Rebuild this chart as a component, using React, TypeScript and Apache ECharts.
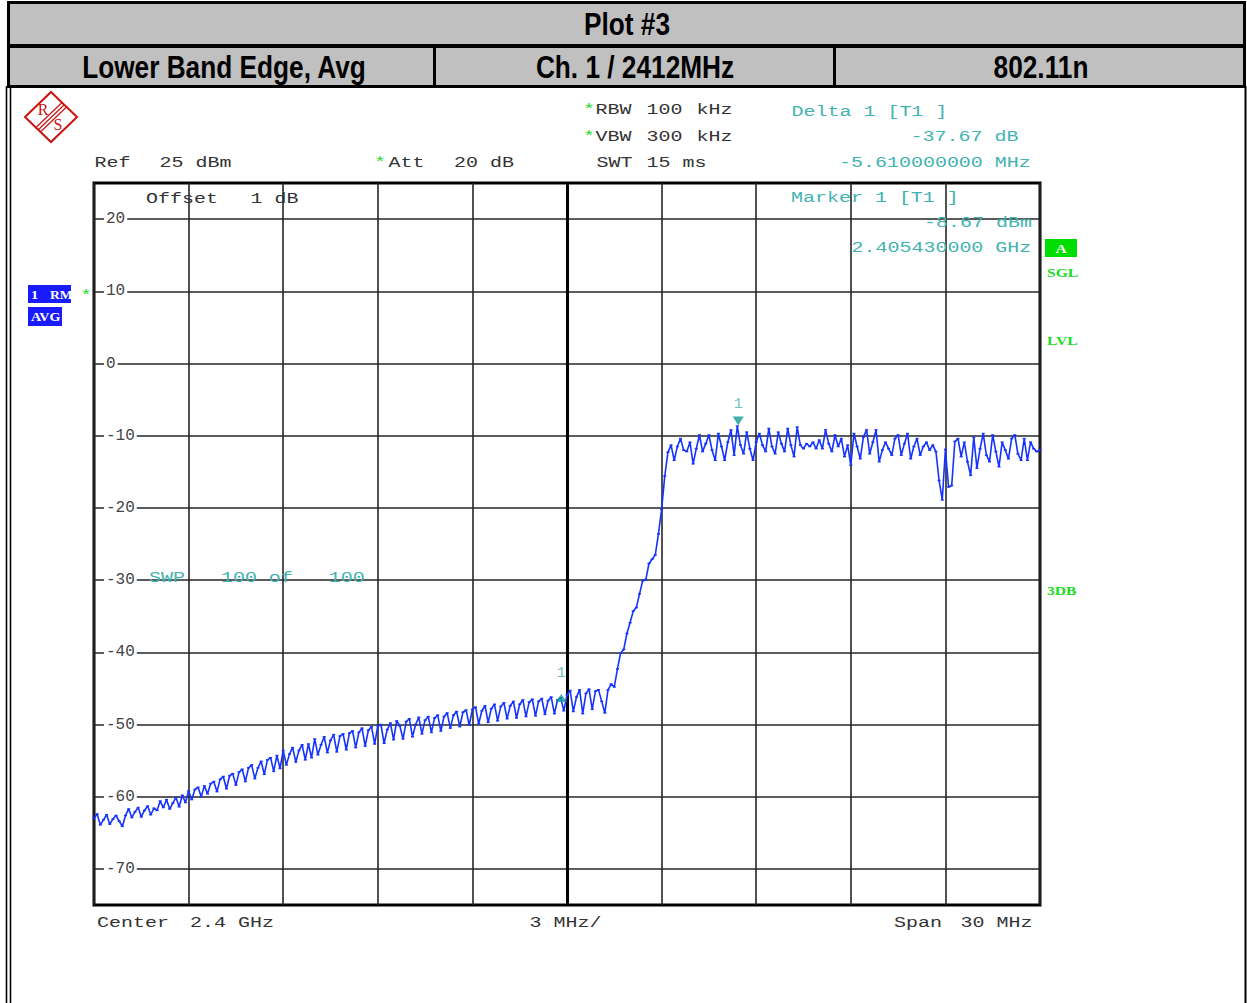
import React, { useEffect, useRef } from "react";
import * as echarts from "echarts";

// ---- Sweep parameters (spectrum analyser) ----
const START_MHZ = 2385;
const STOP_MHZ = 2415;
const CENTER_MHZ = 2400;
const DIV_MHZ = 3;
const SWEEP_POINTS = 301;

// ---- Trace levels (dBm), one per sweep point ----
const LEVELS_DBM = [
  -63.0, -62.4, -63.9, -63.2, -62.5, -63.8, -63.1, -62.6, -63.4, -64.1,
  -62.6, -61.7, -62.9, -62.1, -61.5, -62.8, -61.9, -61.3, -62.5, -61.6,
  -61.9, -60.6, -61.5, -60.4, -61.7, -60.9, -60.1, -61.4, -59.8, -60.8,
  -59.2, -60.4, -59.0, -58.7, -60.0, -58.5, -59.6, -58.2, -57.9, -59.3,
  -57.6, -57.2, -58.9, -57.1, -56.8, -58.4, -56.6, -56.2, -57.9, -56.0,
  -55.6, -57.5, -56.0, -55.1, -56.9, -54.9, -54.6, -56.5, -54.3, -56.1,
  -53.6, -55.6, -54.1, -53.2, -55.2, -53.6, -52.8, -54.9, -52.7, -54.6,
  -52.0, -54.2, -52.8, -51.7, -53.9, -52.2, -51.4, -53.8, -51.6, -51.3,
  -53.5, -51.2, -50.9, -53.2, -51.1, -50.5, -53.0, -50.8, -50.3, -52.7,
  -50.2, -50.0, -52.6, -50.7, -49.8, -52.1, -49.5, -50.2, -52.0, -49.6,
  -49.2, -51.7, -50.0, -49.0, -51.3, -49.4, -48.9, -51.1, -49.1, -48.7,
  -50.9, -48.9, -48.4, -50.5, -48.7, -48.2, -50.3, -48.3, -48.0, -50.1,
  -47.9, -47.6, -49.9, -48.1, -47.4, -49.7, -47.8, -47.2, -49.5, -47.5,
  -47.0, -49.2, -47.4, -46.8, -49.1, -47.2, -46.6, -48.9, -46.9, -46.5,
  -48.8, -46.8, -46.4, -48.6, -46.7, -46.2, -48.5, -46.6, -46.3, -48.1,
  -45.9, -45.3, -48.2, -46.2, -45.2, -48.5, -45.7, -45.1, -47.9, -45.4,
  -45.2, -46.8, -48.4, -45.2, -44.4, -44.8, -42.3, -40.1, -39.6, -37.4,
  -35.9, -34.3, -33.8, -31.9, -30.1, -29.9, -27.7, -27.1, -26.5, -23.6,
  -20.2, -15.6, -12.3, -11.3, -13.4, -11.5, -10.4, -12.0, -12.2, -10.9,
  -13.9, -11.8, -9.9, -12.2, -11.1, -9.9, -12.0, -13.4, -9.7, -11.5,
  -13.4, -10.9, -9.2, -12.7, -8.67, -11.3, -12.5, -9.5, -11.8, -13.4,
  -10.9, -9.7, -11.3, -12.2, -9.0, -11.5, -12.5, -9.5, -11.1, -12.2,
  -9.0, -11.3, -12.9, -8.8, -11.3, -11.8, -11.1, -11.5, -10.9, -11.8,
  -10.6, -11.8, -9.2, -11.1, -12.2, -9.9, -11.5, -10.4, -12.9, -11.3,
  -14.1, -9.7, -11.5, -13.2, -10.2, -9.2, -12.5, -10.9, -9.2, -13.6,
  -12.0, -10.9, -11.8, -12.7, -10.4, -9.9, -12.7, -11.1, -9.7, -13.2,
  -11.5, -10.4, -12.7, -11.5, -10.9, -12.0, -11.3, -12.2, -16.2, -18.9,
  -11.9, -17.1, -16.9, -10.8, -10.4, -12.9, -10.9, -13.6, -15.5, -10.2,
  -14.5, -11.8, -9.7, -12.7, -13.6, -9.9, -12.2, -14.3, -10.9, -12.0,
  -13.2, -10.4, -9.9, -12.5, -13.4, -10.4, -13.4, -10.9, -11.8, -12.2,
  -12.0,
];

// ---- Axis ----
const Y_MIN = -75;
const Y_MAX = 25;
const Y_GRID = [-70, -60, -50, -40, -30, -20, -10, 0, 10, 20];

// ---- Markers ----
const MARKER1_MHZ = 2405.43;
const MARKER1_DBM = -8.67;
const DELTA1_MHZ = 2399.82;
const DELTA1_DB = -37.67;

// ---- Text ----
const TITLE = "Plot #3";
const HEADER_CELLS = ["Lower Band Edge, Avg", "Ch. 1 / 2412MHz", "802.11n"];

const DARK = "#333333";
const TEAL = "#3fb3b0";
const GREEN = "#19dd22";
const TRACE = "#1433ff";
const GRIDC = "#262626";
const MONO = '"Liberation Mono", "DejaVu Sans Mono", monospace';
const SANS = '"Liberation Sans", Arial, sans-serif';
const SERIF = '"Liberation Serif", "DejaVu Serif", serif';

function mono(text: string, x: number, y: number, fill: string = DARK) {
  return {
    type: "text",
    x,
    y,
    scaleX: 1.333,
    silent: true,
    z: 50,
    style: { text, fill, fontFamily: MONO, fontSize: 15, textAlign: "left", textVerticalAlign: "middle" },
  };
}

function header(text: string, cx: number, cy: number) {
  return {
    type: "text",
    x: cx,
    y: cy,
    scaleX: 0.82,
    silent: true,
    z: 50,
    style: {
      text,
      fill: "#000",
      fontFamily: SANS,
      fontWeight: "bold",
      fontSize: 32,
      textAlign: "center",
      textVerticalAlign: "middle",
    },
  };
}

function badge(text: string, x: number, y: number, fill: string, sx: number, align: string = "left") {
  return {
    type: "text",
    x,
    y,
    scaleX: sx,
    silent: true,
    z: 52,
    style: {
      text,
      fill,
      fontFamily: SERIF,
      fontWeight: "bold",
      fontSize: 13,
      textAlign: align,
      textVerticalAlign: "middle",
    },
  };
}

function line(x1: number, y1: number, x2: number, y2: number, w: number, color: string = "#000") {
  return { type: "line", silent: true, z: 40, shape: { x1, y1, x2, y2 }, style: { stroke: color, lineWidth: w } };
}

function buildOption() {
  const step = (STOP_MHZ - START_MHZ) / (SWEEP_POINTS - 1);
  const trace = LEVELS_DBM.map((v, i) => [START_MHZ + i * step, v]);
  const deltaAbs = MARKER1_DBM + DELTA1_DB;

  const red = "#cc1111";
  const graphics: any[] = [
    // header frame
    { type: "rect", silent: true, z: 30, shape: { x: 8.5, y: 2.5, width: 1236, height: 84 }, style: { fill: "#c0c0c0", stroke: "#000", lineWidth: 3 } },
    line(8, 46, 1245, 46, 4),
    line(434.5, 47, 434.5, 86, 3),
    line(834.5, 47, 834.5, 86, 3),
    line(8, 87, 1245, 87, 2),
    line(6.5, 86, 6.5, 1003, 1.6),
    line(10.5, 86, 10.5, 1003, 1.6),
    line(1245.5, 86, 1245.5, 1003, 2),
    header(TITLE, 627, 24),
    header(HEADER_CELLS[0], 224, 67),
    header(HEADER_CELLS[1], 635, 67),
    header(HEADER_CELLS[2], 1041, 67),

    // R&S logo
    { type: "polygon", silent: true, z: 45, shape: { points: [[51, 92], [77, 117], [51, 142], [25, 117]] }, style: { fill: "none", stroke: red, lineWidth: 2 } },
    line(62, 102.5, 36.5, 127, 1.2, red),
    line(64.5, 104.5, 38.5, 129.5, 1.2, red),
    line(67, 106.5, 41, 131.5, 1.2, red),
    { type: "text", x: 43, y: 109, silent: true, z: 46, style: { text: "R", fill: red, fontFamily: SERIF, fontSize: 16, textAlign: "center", textVerticalAlign: "middle" } },
    { type: "text", x: 58, y: 124, silent: true, z: 46, style: { text: "S", fill: red, fontFamily: SERIF, fontSize: 16, textAlign: "center", textVerticalAlign: "middle" } },

    // setting texts (left / middle columns)
    mono("Ref", 94.5, 163),
    mono("25 dBm", 159.5, 163),
    mono("*", 374, 163, GREEN),
    mono("Att", 388.5, 163),
    mono("20 dB", 454, 163),
    mono("*", 583, 110, GREEN),
    mono("RBW", 595.5, 110),
    mono("100", 646.5, 110),
    mono("kHz", 696.5, 110),
    mono("*", 583, 137, GREEN),
    mono("VBW", 595.5, 137),
    mono("300", 646.5, 137),
    mono("kHz", 696.5, 137),
    mono("SWT", 596.5, 163),
    mono("15 ms", 646.5, 163),
    mono("Offset", 146, 198.5),
    mono("1 dB", 250.5, 198.5),

    // marker readouts
    mono("Delta 1 [T1 ]", 791.5, 112, TEAL),
    mono(`${DELTA1_DB.toFixed(2)} dB`, 910.5, 137, TEAL),
    mono(`${(DELTA1_MHZ - MARKER1_MHZ).toFixed(9)} MHz`, 839, 163, TEAL),
    mono("Marker 1 [T1 ]", 791, 198, TEAL),
    mono(`${MARKER1_DBM.toFixed(2)} dBm`, 924, 223, TEAL),
    mono(`${(MARKER1_MHZ / 1000).toFixed(9)} GHz`, 851.5, 248, TEAL),
    mono("SWP   100 of   100", 149, 578, TEAL),

    // bottom
    mono("Center", 97, 923),
    mono("2.4 GHz", 190, 923),
    mono("3 MHz/", 529.5, 923),
    mono("Span", 894, 923),
    mono("30 MHz", 960.5, 923),

    // status badges
    { type: "rect", silent: true, z: 51, shape: { x: 28, y: 285, width: 43, height: 18 }, style: { fill: "#1a1aff" } },
    badge("1", 31, 294.5, "#fff", 1.1),
    badge("RM", 50, 294.5, "#fff", 1.05),
    { type: "rect", silent: true, z: 51, shape: { x: 28, y: 307, width: 34, height: 19 }, style: { fill: "#1a1aff" } },
    badge("AVG", 31, 316.5, "#fff", 1.08),
    mono("*", 80, 295.5, GREEN),
    { type: "rect", silent: true, z: 51, shape: { x: 1045, y: 239, width: 32, height: 18 }, style: { fill: "#00dd00" } },
    badge("A", 1061, 248.5, "#fff", 1.2, "center"),
    badge("SGL", 1047, 272.5, GREEN, 1.2),
    badge("LVL", 1047, 340.5, GREEN, 1.2),
    badge("3DB", 1047, 590, GREEN, 1.2),
  ];

  return {
    animation: false,
    backgroundColor: "#ffffff",
    grid: { left: 94, top: 183, width: 946, height: 722, show: true, borderColor: "#000", borderWidth: 3, backgroundColor: "transparent" },
    xAxis: {
      type: "value",
      min: START_MHZ,
      max: STOP_MHZ,
      interval: DIV_MHZ,
      axisLabel: { show: false },
      axisTick: { show: false },
      axisLine: { show: false },
      splitLine: { show: true, lineStyle: { color: GRIDC, width: 1.6 } },
      z: 2,
    },
    yAxis: {
      type: "value",
      min: Y_MIN,
      max: Y_MAX,
      interval: 5,
      axisLine: { show: false },
      axisTick: { show: false },
      splitLine: { show: false },
      z: 5,
      axisLabel: {
        inside: true,
        margin: 10,
        align: "left",
        formatter: (v: number) => (Y_GRID.indexOf(Math.round(v)) >= 0 && Math.abs(v - Math.round(v)) < 1e-6 ? `{a|${Math.round(v)}}` : ""),
        rich: {
          a: { backgroundColor: "#ffffff", padding: [1, 2, 1, 2], color: "#444444", fontFamily: MONO, fontSize: 16 },
        },
      },
    },
    series: [
      {
        type: "line",
        data: trace,
        symbol: "none",
        silent: true,
        lineStyle: { opacity: 0 },
        z: 1,
        markLine: {
          silent: true,
          symbol: ["none", "none"],
          label: { show: false },
          lineStyle: { color: GRIDC, width: 1.6, type: "solid" },
          data: [
            ...Y_GRID.map((v) => ({ yAxis: v })),
            { xAxis: CENTER_MHZ, lineStyle: { color: "#000", width: 3, type: "solid" } },
          ],
        },
      },
      {
        type: "line",
        data: trace,
        symbol: "rect",
        symbolSize: [3, 1.5],
        showSymbol: true,
        showAllSymbol: true,
        silent: true,
        itemStyle: { color: TRACE },
        lineStyle: { color: TRACE, width: 1.6 },
        z: 10,
      },
      {
        type: "scatter",
        data: [[MARKER1_MHZ, MARKER1_DBM]],
        symbol: "triangle",
        symbolRotate: 180,
        symbolSize: [11, 9],
        symbolOffset: [0, -5],
        silent: true,
        itemStyle: { color: "#139c94" },
        label: { show: true, position: "top", distance: 5, formatter: "1", color: TEAL, fontFamily: MONO, fontSize: 15 },
        z: 12,
      },
      {
        type: "scatter",
        data: [[DELTA1_MHZ, deltaAbs]],
        symbol: "triangle",
        symbolSize: [11, 8],
        silent: true,
        itemStyle: { color: "#139c94" },
        label: { show: true, position: "top", distance: 13, formatter: "1", color: TEAL, fontFamily: MONO, fontSize: 15 },
        z: 12,
      },
    ],
    graphic: { elements: graphics },
  };
}

export default function App() {
  const ref = useRef<HTMLDivElement>(null);
  useEffect(() => {
    if (!ref.current) return;
    const chart = echarts.init(ref.current, undefined, { renderer: "svg" });
    chart.setOption(buildOption() as any);
    return () => chart.dispose();
  }, []);
  return (
    <div
      ref={ref}
      style={{ position: "fixed", left: 0, top: 0, width: 1247, height: 1003, background: "#ffffff" }}
    />
  );
}
